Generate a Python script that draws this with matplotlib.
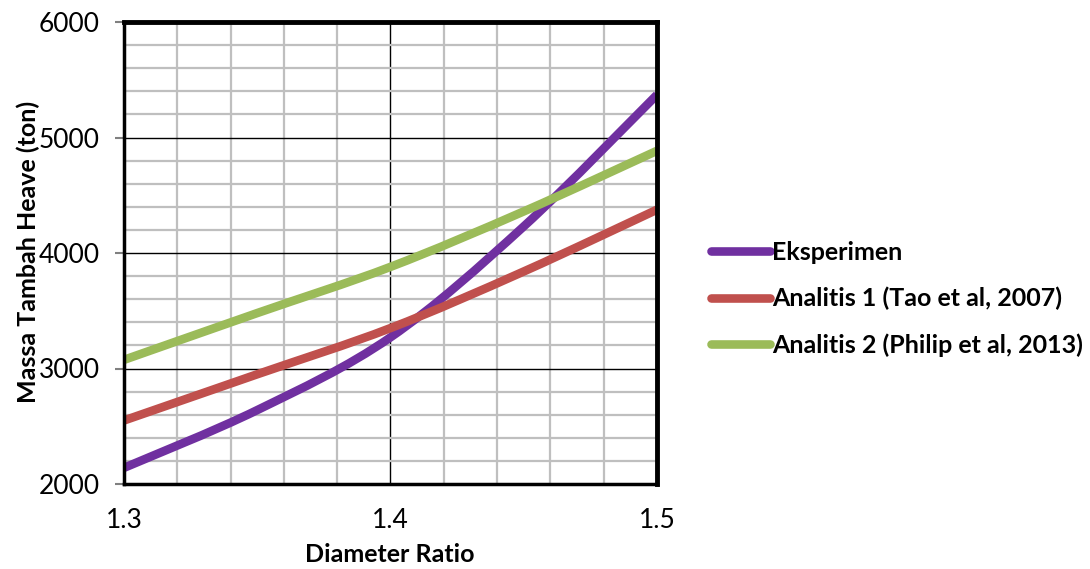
import matplotlib
matplotlib.use("Agg")
import matplotlib.pyplot as plt
from matplotlib.path import Path
from matplotlib.patches import PathPatch
from matplotlib.lines import Line2D
from matplotlib.ticker import MultipleLocator

plt.rcParams['font.family'] = ['Lato', 'DejaVu Sans']

diameter_ratio = [1.30, 1.35, 1.40, 1.45, 1.50]
eksperimen = [2140, 2640, 3270, 4230, 5370]
analitis_1 = [2550, 2950, 3350, 3840, 4375]
analitis_2 = [3075, 3480, 3880, 4360, 4885]

series_names = ["Eksperimen", "Analitis 1 (Tao et al, 2007)", "Analitis 2 (Philip et al, 2013)"]
series_colors = ["#7030A0", "#C0504D", "#9BBB59"]
x_ticks = [1.3, 1.4, 1.5]
y_ticks = [2000, 3000, 4000, 5000, 6000]


def smooth_path(xs, ys):
    """Bezier path through the points with Catmull-Rom style tangents."""
    pts = list(zip(xs, ys))
    n = len(pts)
    verts = [pts[0]]
    codes = [Path.MOVETO]
    for i in range(n - 1):
        p0 = pts[i - 1] if i > 0 else pts[i]
        p1 = pts[i]
        p2 = pts[i + 1]
        p3 = pts[i + 2] if i + 2 < n else pts[i + 1]
        c1 = (p1[0] + (p2[0] - p0[0]) / 6, p1[1] + (p2[1] - p0[1]) / 6)
        c2 = (p2[0] - (p3[0] - p1[0]) / 6, p2[1] - (p3[1] - p1[1]) / 6)
        verts += [c1, c2, p2]
        codes += [Path.CURVE4] * 3
    return Path(verts, codes)


W, H = 1090, 569
fig = plt.figure(figsize=(W / 100, H / 100), dpi=100)
ax = fig.add_axes([124 / W, 1 - 484 / H, (657 - 124) / W, (484 - 22) / H])

ax.set_xlim(1.3, 1.5)
ax.set_ylim(2000, 6000)
ax.set_xticks(x_ticks)
ax.set_xticklabels([f"{v:.1f}" for v in x_ticks])
ax.set_yticks(y_ticks)
ax.xaxis.set_minor_locator(MultipleLocator(0.02))
ax.yaxis.set_minor_locator(MultipleLocator(200))

ax.grid(which='minor', color='#BFBFBF', linewidth=1.6, zorder=0)
ax.grid(which='major', color='black', linewidth=1.0, zorder=0.5)
ax.set_axisbelow(True)

handles = []
for ys, name, color in zip([eksperimen, analitis_1, analitis_2], series_names, series_colors):
    patch = PathPatch(smooth_path(diameter_ratio, ys), facecolor='none', edgecolor=color,
                      linewidth=6.2, capstyle='butt', zorder=3, clip_on=True)
    ax.add_patch(patch)
    handles.append(Line2D([], [], color=color, linewidth=6.2, solid_capstyle='round', label=name))

for side, lw in (('top', 3.5), ('right', 3.5), ('bottom', 2.5), ('left', 2.5)):
    ax.spines[side].set_linewidth(lw)
    ax.spines[side].set_color('black')
    ax.spines[side].set_zorder(4)

ax.tick_params(axis='y', which='major', direction='out', length=6.5, width=1.5, color='#808080',
               labelsize=19, pad=11)
ax.tick_params(axis='x', which='major', length=0, labelsize=19, pad=17)
ax.tick_params(which='minor', length=0)

fig.text(390 / W, 1 - 555 / H, "Diameter Ratio", fontsize=18, fontweight='bold',
         ha='center', va='center')
fig.text(28 / W, 1 - 252 / H, "Massa Tambah Heave (ton)", fontsize=18, fontweight='bold',
         ha='center', va='center', rotation=90)

fig.legend(handles=handles, loc='upper left', bbox_to_anchor=(711 / W, 1 - 241 / H),
           frameon=False, prop={'weight': 'bold', 'size': 18}, borderpad=0,
           handlelength=2.35, handletextpad=0.1, labelspacing=0.92, borderaxespad=0)

fig.savefig("out.png", dpi=100)
